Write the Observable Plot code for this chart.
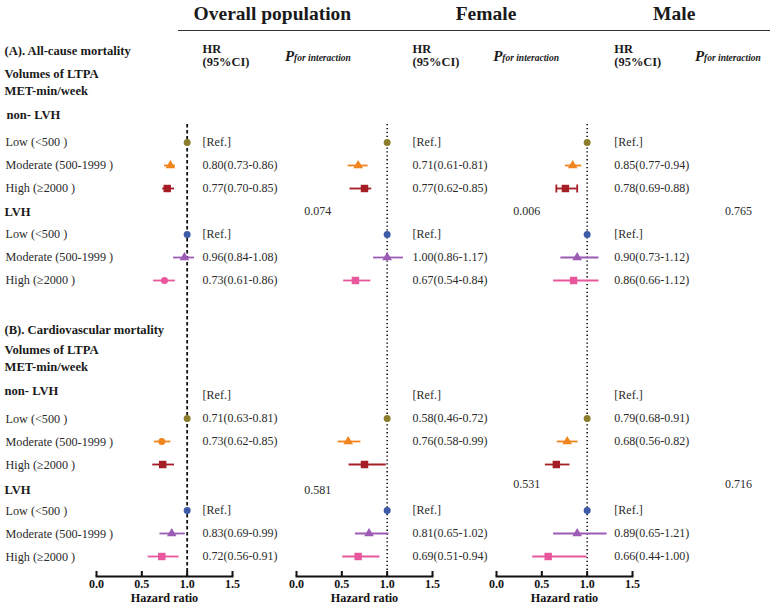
<!DOCTYPE html>
<html><head><meta charset="utf-8">
<script src="https://cdn.jsdelivr.net/npm/d3@7"></script>
<script src="https://cdn.jsdelivr.net/npm/@observablehq/plot@0.6"></script>
<style>
body{margin:0;background:#fff;}
#wrap{position:relative;width:770px;height:608px;font-family:"Liberation Serif","Times New Roman",serif;}
#rule{position:absolute;left:178px;top:30px;width:592px;height:0;border-top:1.5px solid #333;}
#wrap svg{display:block;}
#wrap svg text{font-family:"Liberation Serif","Times New Roman",serif;}
</style></head><body><div id="wrap"><div id="rule"></div></div>
<script>
// ---------- data ----------
const panels = ["Overall population", "Female", "Male"];
const outcomes = ["(A). All-cause mortality", "(B). Cardiovascular mortality"];
const lvhGroups = ["non- LVH", "LVH"];
const volumes = ["Low (<500 )", "Moderate (500-1999 )", "High (\u22652000 )"];
const volumeHeader = "Volumes of LTPA\nMET-min/week";
const axisTicks = [0, 0.5, 1, 1.5];

// plotted estimates (as drawn): non-LVH low, moderate, high, LVH low, moderate, high
const hrA_overall = [1, 0.815, 0.78, 1, 0.97, 0.75];
const loA_overall = [1, 0.75, 0.73, 1, 0.85, 0.63];
const hiA_overall = [1, 0.87, 0.86, 1, 1.08, 0.87];
const hrA_female = [1, 0.68, 0.75, 1, 1.0, 0.65];
const loA_female = [1, 0.57, 0.59, 1, 0.85, 0.52];
const hiA_female = [1, 0.79, 0.83, 1, 1.18, 0.82];
const hrA_male = [1, 0.84, 0.76, 1, 0.89, 0.85];
const loA_male = [1, 0.76, 0.66, 1, 0.71, 0.63];
const hiA_male = [1, 0.94, 0.89, 1, 1.13, 1.13];
const hrB_overall = [1, 0.72, 0.73, 1, 0.83, 0.72];
const loB_overall = [1, 0.64, 0.62, 1, 0.70, 0.57];
const hiB_overall = [1, 0.82, 0.86, 1, 0.98, 0.91];
const hrB_female = [1, 0.57, 0.75, 1, 0.80, 0.68];
const loB_female = [1, 0.46, 0.58, 1, 0.65, 0.51];
const hiB_female = [1, 0.71, 0.99, 1, 1.02, 0.92];
const hrB_male = [1, 0.78, 0.66, 1, 0.89, 0.57];
const loB_male = [1, 0.67, 0.54, 1, 0.63, 0.40];
const hiB_male = [1, 0.90, 0.81, 1, 1.22, 1.0];

// printed HR (95%CI) text
const txtA_overall = ["[Ref.]", "0.80(0.73-0.86)", "0.77(0.70-0.85)", "[Ref.]", "0.96(0.84-1.08)", "0.73(0.61-0.86)"];
const txtA_female = ["[Ref.]", "0.71(0.61-0.81)", "0.77(0.62-0.85)", "[Ref.]", "1.00(0.86-1.17)", "0.67(0.54-0.84)"];
const txtA_male = ["[Ref.]", "0.85(0.77-0.94)", "0.78(0.69-0.88)", "[Ref.]", "0.90(0.73-1.12)", "0.86(0.66-1.12)"];
const txtB_overall = ["[Ref.]", "0.71(0.63-0.81)", "0.73(0.62-0.85)", "[Ref.]", "0.83(0.69-0.99)", "0.72(0.56-0.91)"];
const txtB_female = ["[Ref.]", "0.58(0.46-0.72)", "0.76(0.58-0.99)", "[Ref.]", "0.81(0.65-1.02)", "0.69(0.51-0.94)"];
const txtB_male = ["[Ref.]", "0.79(0.68-0.91)", "0.68(0.56-0.82)", "[Ref.]", "0.89(0.65-1.21)", "0.66(0.44-1.00)"];
const pA = ["0.074", "0.006", "0.765"];
const pB = ["0.581", "0.531", "0.716"];

// ---------- layout / style ----------
const rows = ["A_title","A_vol","A_met","A_non","A_n0","A_n1","A_n2","A_lvh","A_l0","A_l1","A_l2","gap",
  "B_title","B_vol","B_met","B_non","B_n0","B_n1","B_n2","B_lvh","B_l0","B_l1","B_l2"];
const pointRows = [["A_n0","A_n1","A_n2","A_l0","A_l1","A_l2"], ["B_n0","B_n1","B_n2","B_l0","B_l1","B_l2"]];
const textRows = [["A_n0","A_n1","A_n2","A_l0","A_l1","A_l2"], ["B_non","B_n0","B_n1","B_l0","B_l1","B_l2"]];
const colors = ["#8C7E2E", "#F0851E", "#A51E25", "#3D5BA8", "#9C5BB5", "#E8579B"];
const shapes = ["circle", "triangle", "square", "circle", "triangle", "square"];
const shapeOverride = {"Overall population|0|5": "circle", "Overall population|1|1": "circle"};
const capped = {"Male|0|2": true};
const headX = {"Overall population": 1.94, "Female": 2.09, "Male": 1.96};
const hrX = {"Overall population": 1.17, "Female": 1.28, "Male": 1.30};
const pHeadX = {"Overall population": 2.08, "Female": 2.17, "Male": 2.19};
const pX = {"Overall population": 2.44, "Female": 2.54, "Male": 2.67};

const series = {
  "Overall population": [[hrA_overall, loA_overall, hiA_overall, txtA_overall], [hrB_overall, loB_overall, hiB_overall, txtB_overall]],
  "Female": [[hrA_female, loA_female, hiA_female, txtA_female], [hrB_female, loB_female, hiB_female, txtB_female]],
  "Male": [[hrA_male, loA_male, hiA_male, txtA_male], [hrB_male, loB_male, hiB_male, txtB_male]]
};

const points = [], texts = [];
panels.forEach(p => {
  series[p].forEach(([hr, lo, hi, txt], o) => {
    hr.forEach((v, i) => {
      const key = `${p}|${o}|${i}`;
      points.push({fx: p, row: pointRows[o][i], hr: v, lo: lo[i], hi: hi[i], color: colors[i],
        shape: shapeOverride[key] || shapes[i], cap: !!capped[key]});
      texts.push({fx: p, row: textRows[o][i], text: txt[i], x: hrX[p]});
    });
  });
});

const pvals = [];
panels.forEach((p, j) => {
  pvals.push({fx: p, row: "A_lvh", text: pA[j], x: pX[p], dy: 0});
  pvals.push({fx: p, row: "B_lvh", text: pB[j], x: pX[p], dy: j === 0 ? 3 : -3});
});

const left = [];
outcomes.forEach((t, o) => {
  const k = o === 0 ? "A" : "B";
  left.push({row: `${k}_title`, text: t, bold: true, dy: o === 0 ? 0 : 3});
  left.push({row: `${k}_non`, text: lvhGroups[0], bold: true, dy: -5, dx: o === 0 ? 2 : 0});
  left.push({row: `${k}_lvh`, text: lvhGroups[1], bold: true, dy: o === 0 ? 0 : 2});
  volumes.forEach((v, i) => {
    left.push({row: `${k}_n${i}`, text: v, bold: false, dy: o === 0 ? 0 : 1});
    left.push({row: `${k}_l${i}`, text: v, bold: false, dy: o === 0 ? 0 : 1});
  });
});
const first = panels[0];
const font = '"Liberation Serif", "Times New Roman", serif';
const capSymbol = {draw(ctx, size) { const h = Math.sqrt(size) / 2; ctx.moveTo(0, -h); ctx.lineTo(0, h); }};
const T = (data, opts) => Plot.text(data, {fontFamily: font, ...opts});

const shapeMarks = ["circle", "triangle", "square"].map(s =>
  Plot.dot(points.filter(d => d.shape === s), {
    fx: "fx", x: "hr", y: "row", symbol: s, fill: "color", stroke: "none",
    r: s === "circle" ? 3.5 : s === "square" ? 4.2 : 3.6
  }));

const chart = Plot.plot({
  width: 770, height: 608,
  marginLeft: 96, marginRight: 138, marginTop: 48, marginBottom: 32,
  style: {fontFamily: font, background: "transparent", overflow: "visible", color: "#222"},
  fx: {domain: panels, paddingInner: 0.32, paddingOuter: 0, axis: null},
  x: {domain: [0, 1.5], axis: null},
  y: {type: "point", domain: rows, padding: 0, insetBottom: 18, axis: null},
  marks: [
    // reference lines
    Plot.ruleX([first], {fx: d => d, x: () => 1, insetTop: 76, stroke: "#111", strokeWidth: 1.8, strokeDasharray: "3.5,2.5"}),
    Plot.ruleX(panels.slice(1), {fx: d => d, x: () => 1, insetTop: 76, stroke: "#111", strokeWidth: 1.6, strokeDasharray: "1.3,2.6"}),
    // axes
    Plot.frame({anchor: "bottom", stroke: "#111", strokeWidth: 2}),
    Plot.ruleX(axisTicks, {x: d => d, insetTop: 571 - 48, stroke: "#111", strokeWidth: 2}),
    T(axisTicks, {x: d => d, frameAnchor: "bottom", dy: 11, text: d => d3.format(".1f")(d), fontWeight: "bold", fontSize: 12, fill: "#111"}),
    T(panels, {fx: d => d, x: () => 0.75, frameAnchor: "bottom", dy: 25.5, text: () => "Hazard ratio", fontWeight: "bold", fontSize: 12.2, fill: "#111"}),
    // error bars
    Plot.ruleY(points.filter(d => d.lo !== d.hi), {fx: "fx", y: "row", x1: "lo", x2: "hi", stroke: "color", strokeWidth: 1.8}),
    Plot.dot(points.filter(d => d.cap).flatMap(d => [{...d, v: d.lo}, {...d, v: d.hi}]), {fx: "fx", x: "v", y: "row", symbol: capSymbol, r: 4.5, stroke: "color", strokeWidth: 1.8, fill: "none"}),
    ...shapeMarks,
    // HR text
    T(texts, {fx: "fx", x: "x", y: "row", text: "text", textAnchor: "start", fontSize: 12, fill: "#2a2a2a"}),
    // p values
    ...[0, 3, -3].map(dy => T(pvals.filter(d => d.dy === dy), {fx: "fx", x: "x", y: "row", text: "text", textAnchor: "middle", fontSize: 12, fill: "#2a2a2a", dy})),
    // panel headers
    T(panels, {fx: d => d, x: d => headX[d], frameAnchor: "top", dy: -42, text: d => d, fontWeight: "bold", fontSize: 19.5, fill: "#1a1a1a"}),
    T(panels, {fx: d => d, x: d => hrX[d], frameAnchor: "top", dy: -5, text: () => "HR\n(95%CI)", textAnchor: "start", lineAnchor: "top", lineHeight: 1.05, fontWeight: "bold", fontSize: 12.4, fill: "#1a1a1a"}),
    T(panels, {fx: d => d, x: d => pHeadX[d], frameAnchor: "top", dy: 2, text: () => "P", textAnchor: "start", fontWeight: "bold", fontStyle: "italic", fontSize: 15, fill: "#1a1a1a"}),
    T(panels, {fx: d => d, x: d => pHeadX[d], frameAnchor: "top", dy: 6, dx: 9, text: () => "for interaction", textAnchor: "start", fontWeight: "bold", fontStyle: "italic", fontSize: 9.5, fill: "#1a1a1a"}),
    // left column labels
    T(left.filter(d => d.bold && d.dy === 0 && !d.dx), {fx: () => first, y: "row", text: "text", frameAnchor: "left", dx: -92, textAnchor: "start", fontWeight: "bold", fontSize: 12.6, fill: "#1a1a1a"}),
    ...[[3, 0], [-5, 2], [-5, 0], [2, 0]].map(([dy, dx]) => T(left.filter(d => d.bold && d.dy === dy && (d.dx || 0) === dx), {fx: () => first, y: "row", text: "text", frameAnchor: "left", dx: -92 + dx, dy, textAnchor: "start", fontWeight: "bold", fontSize: 12.6, fill: "#1a1a1a"})),
    ...[0, 1].map(dy => T(left.filter(d => !d.bold && d.dy === dy), {fx: () => first, y: "row", text: "text", frameAnchor: "left", dx: -91, dy, textAnchor: "start", fontSize: 12.2, fill: "#2a2a2a"})),
    T(["A_vol", "B_vol"], {fx: () => first, y: d => d, text: () => volumeHeader, frameAnchor: "left", dx: -92, dy: -7, lineAnchor: "top", lineHeight: 1.3, textAnchor: "start", fontWeight: "bold", fontSize: 12.6, fill: "#1a1a1a"})
  ]
});
document.getElementById("wrap").appendChild(chart);
</script></body></html>
